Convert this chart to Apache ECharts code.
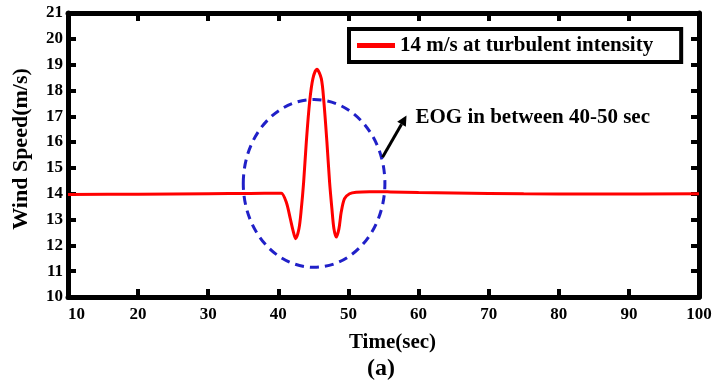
<!DOCTYPE html>
<html>
<head>
<meta charset="utf-8">
<script src="https://cdn.jsdelivr.net/npm/echarts@6/dist/echarts.min.js"></script>
<style>
  html, body { margin: 0; padding: 0; background: #fff; }
  #chart { width: 713px; height: 389px; }
</style>
</head>
<body>
<div id="chart"></div>
<script>
// Wind speed record with an extreme operating gust (EOG) between 40 and 50 s
const timeSec = [10, 20, 30, 36, 40, 40.43, 41.14, 41.71, 42.09, 42.47, 42.94, 43.28, 43.61, 43.99, 44.46, 44.93, 45.5,
  46.13, 46.5, 46.93, 47.31, 47.64, 47.93, 48.26, 48.64, 48.97, 49.44, 50.16, 51.1, 53, 56, 60, 65, 75, 85, 100];
const windSpeed = [13.97, 13.98, 14.0, 14.01, 14.02, 14.02, 13.67, 13.03, 12.58, 12.26, 12.64, 13.42, 14.45, 16.0, 17.55, 18.46, 18.82,
  18.46, 17.55, 16.0, 14.45, 13.42, 12.64, 12.32, 12.64, 13.29, 13.81, 14.0, 14.06, 14.08, 14.07, 14.05, 14.03, 14.0, 13.99, 14.0];

const xTicks = { min: 10, max: 100, step: 10 };
const yTicks = { min: 10, max: 21, step: 1 };

const seriesName = '14 m/s at turbulent intensity';
const gustNote = 'EOG in between 40-50 sec';
const xTitle = 'Time(sec)';
const yTitle = 'Wind Speed(m/s)';
const panelTag = '(a)';

// Gust region outline (time range, speed range) and the pointer to its note
const gustRegion = { t0: 35.0, t1: 55.2, v0: 11.15, v1: 17.65 };
const pointerFrom = [54.86, 15.41];
const pointerTo = [58.28, 17.03];
const notePos = [59.56, 16.96];

const FONT = '"Liberation Serif", "Times New Roman", serif';
const INK = '#000';

const points = timeSec.map((t, i) => [t, windSpeed[i]]);

function frameAxis(pos, isX, showLabels) {
  const base = isX ? xTicks : yTicks;
  return {
    type: 'value',
    position: pos,
    min: base.min, max: base.max, interval: base.step,
    axisLine: { show: true, onZero: false, lineStyle: { color: INK, width: 5 } },
    axisTick: { show: true, inside: true, length: 8, lineStyle: { color: INK, width: 4 } },
    splitLine: { show: false },
    axisLabel: { show: showLabels }
  };
}

const chart = echarts.init(document.getElementById('chart'), null, { renderer: 'canvas' });

const xBottom = frameAxis('bottom', true, true);
Object.assign(xBottom, {
  name: xTitle,
  nameLocation: 'middle',
  nameGap: 35,
  nameTextStyle: { fontFamily: FONT, fontWeight: 'bold', fontSize: 21, color: INK, padding: [0, 0, 0, 18] }
});
xBottom.axisLabel = { show: true, fontFamily: FONT, fontWeight: 'bold', fontSize: 17, color: INK, margin: 9, alignMinLabel: 'left' };

const yLeft = frameAxis('left', false, true);
Object.assign(yLeft, {
  name: yTitle,
  nameLocation: 'middle',
  nameRotate: 90,
  nameGap: 36,
  nameTextStyle: { fontFamily: FONT, fontWeight: 'bold', fontSize: 22, color: INK, padding: [0, 0, 0, 12] }
});
yLeft.axisLabel = { show: true, fontFamily: FONT, fontWeight: 'bold', fontSize: 17, color: INK, margin: 5 };

chart.setOption({
  animation: false,
  backgroundColor: '#fff',
  grid: { left: 68, right: 14, top: 13, bottom: 92, containLabel: false, outerBoundsMode: 'none' },
  xAxis: [xBottom, frameAxis('top', true, false)],
  yAxis: [yLeft, frameAxis('right', false, false)],
  legend: {
    show: true,
    left: 349, top: 29,
    orient: 'horizontal',
    icon: 'rect',
    itemWidth: 38, itemHeight: 5,
    padding: [6, 28, 6, 8],
    borderColor: INK, borderWidth: 4,
    backgroundColor: '#fff',
    textStyle: { fontFamily: FONT, fontWeight: 'bold', fontSize: 21, color: INK },
    data: [seriesName]
  },
  series: [{
    name: seriesName,
    type: 'line',
    xAxisIndex: 0, yAxisIndex: 0,
    data: points,
    smooth: 0.3,
    symbol: 'none',
    lineStyle: { color: '#ff0000', width: 3 },
    itemStyle: { color: '#ff0000' },
    z: 3
  }]
});

// Annotation layer placed in data coordinates
function px(p) { return chart.convertToPixel({ xAxisIndex: 0, yAxisIndex: 0 }, p); }

const c0 = px([gustRegion.t0, gustRegion.v0]);
const c1 = px([gustRegion.t1, gustRegion.v1]);
const ell = {
  cx: (c0[0] + c1[0]) / 2, cy: (c0[1] + c1[1]) / 2,
  rx: Math.abs(c1[0] - c0[0]) / 2, ry: Math.abs(c1[1] - c0[1]) / 2
};

const a = px(pointerFrom), b = px(pointerTo);
const dx = b[0] - a[0], dy = b[1] - a[1];
const len = Math.hypot(dx, dy);
const ux = dx / len, uy = dy / len;
const headLen = 10, headHalf = 5;
const baseX = b[0] - ux * headLen, baseY = b[1] - uy * headLen;
const head = [
  [b[0], b[1]],
  [baseX - uy * headHalf, baseY + ux * headHalf],
  [baseX + uy * headHalf, baseY - ux * headHalf]
];
const note = px(notePos);

chart.setOption({
  graphic: [
    {
      type: 'ellipse', z: 10,
      shape: ell,
      style: { fill: 'none', stroke: '#2020c8', lineWidth: 3, lineDash: [9, 6] }
    },
    {
      type: 'line', z: 10,
      shape: { x1: a[0], y1: a[1], x2: baseX, y2: baseY },
      style: { stroke: INK, lineWidth: 3 }
    },
    {
      type: 'polygon', z: 10,
      shape: { points: head },
      style: { fill: INK }
    },
    {
      type: 'text', z: 10,
      x: note[0], y: note[1],
      style: { text: gustNote, fill: INK, font: 'bold 21px ' + FONT, verticalAlign: 'middle', align: 'left' }
    },
    {
      type: 'text', z: 10,
      x: 381, y: 369,
      style: { text: panelTag, fill: INK, font: 'bold 24px ' + FONT, verticalAlign: 'middle', align: 'center' }
    }
  ]
});
</script>
</body>
</html>
